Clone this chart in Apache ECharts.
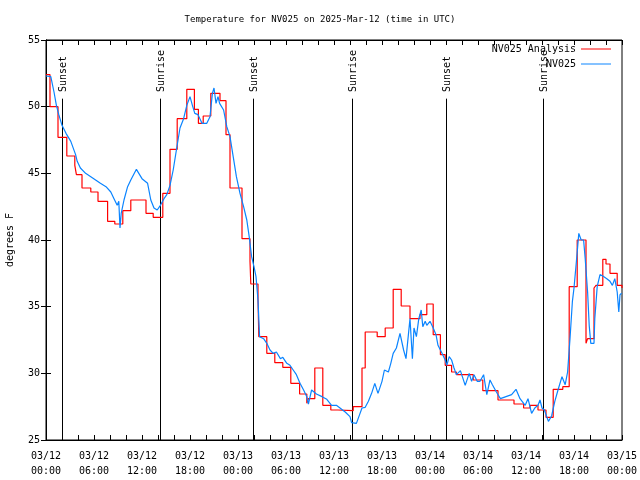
<!DOCTYPE html>
<html><head><meta charset="utf-8">
<script src="https://cdn.jsdelivr.net/npm/echarts@6/dist/echarts.min.js"></script>
<style>html,body{margin:0;padding:0;background:#fff}#c{width:640px;height:480px}</style>
</head><body><div id="c"></div>
<script>
const titleText = 'Temperature for NV025 on 2025-Mar-12 (time in UTC)';
const yAxisName = 'degrees F';
const xTickLabels = ['03/12\n00:00','03/12\n06:00','03/12\n12:00','03/12\n18:00','03/13\n00:00','03/13\n06:00','03/13\n12:00','03/13\n18:00','03/14\n00:00','03/14\n06:00','03/14\n12:00','03/14\n18:00','03/15\n00:00'];
const seriesNames = ['NV025 Analysis', 'NV025'];

// Analysis (hours since 03/12 00:00 UTC, deg F) - stepped
const analysisHours = [0.0,0.5,1.5,2.6,3.6,3.8,4.5,5.6,6.5,7.7,8.6,9.6,10.6,12.5,13.4,14.6,15.5,16.4,17.6,18.55,19.05,19.65,20.6,21.75,22.5,23.0,24.5,25.5,25.6,26.5,26.6,27.6,28.6,29.6,30.6,31.7,32.6,32.8,33.6,34.6,35.6,36.5,38.4,39.5,39.9,41.4,42.4,43.4,44.4,45.5,46.75,47.6,48.4,49.3,49.9,50.7,51.3,53.4,54.6,56.5,58.5,59.7,60.5,61.5,62.5,63.4,64.6,65.4,66.4,67.5,67.7,68.5,68.75,69.6,70.0,70.5,71.4,72.0];
const analysisTemps = [52.4,50.0,47.7,46.3,45.6,44.9,43.9,43.6,42.9,41.4,41.2,42.2,43.0,42.0,41.7,43.5,46.8,49.1,51.3,49.8,48.75,49.3,51.0,50.45,47.9,43.9,40.1,38.4,36.7,35.6,32.75,31.5,30.8,30.45,29.25,28.45,27.75,28.1,30.4,27.6,27.25,27.2,27.5,30.4,33.1,32.75,33.4,36.3,35.05,34.1,34.4,35.2,32.9,31.4,30.6,30.1,29.9,29.5,28.7,28.0,27.7,27.4,27.6,27.25,26.7,28.8,29.0,36.5,40.0,32.25,32.6,36.4,36.6,38.55,38.2,37.5,36.6,36.4];

// Observations
const obsHours = [0.0,0.17,0.6,1.0,1.3,1.6,2.0,2.5,3.1,3.7,3.9,4.3,4.95,5.6,6.2,6.8,7.5,8.1,8.5,8.9,9.1,9.25,9.4,9.75,10.2,10.6,11.3,12.0,12.7,13.1,13.5,13.9,14.3,14.75,15.1,15.5,15.9,16.3,16.75,17.2,17.6,18.0,18.3,18.6,19.0,19.5,20.1,20.5,20.8,21.0,21.25,21.5,21.7,22.2,22.6,23.0,23.4,23.8,24.25,24.7,25.1,25.4,25.7,26.0,26.25,26.5,26.7,27.2,27.6,28.0,28.4,28.8,29.3,29.6,30.1,30.5,30.9,31.3,31.75,32.2,32.6,32.8,33.2,33.4,33.8,34.5,35.1,35.7,36.3,36.75,37.4,38.0,38.2,38.8,39.2,39.5,39.9,40.3,40.7,41.1,41.5,42.0,42.3,42.8,43.1,43.4,43.8,44.25,44.7,45.0,45.3,45.5,45.8,46.0,46.3,46.6,46.9,47.1,47.4,47.6,48.0,48.4,48.75,49.0,49.5,49.9,50.1,50.4,50.7,51.0,51.3,51.8,52.4,52.9,53.2,53.5,53.9,54.25,54.7,55.1,55.5,55.8,56.3,56.8,57.5,58.2,58.75,59.25,59.9,60.25,60.7,61.1,61.5,61.75,62.0,62.3,62.8,63.2,63.6,64.0,64.5,64.9,65.2,65.5,65.8,66.0,66.3,66.6,66.9,67.2,67.4,67.7,67.9,68.1,68.5,68.6,68.9,69.25,69.6,70.1,70.5,70.8,71.1,71.4,71.6,71.75,71.95];
const obsTemps = [52.3,52.4,52.25,51.1,50.1,49.4,48.6,48.0,47.4,46.4,45.9,45.4,45.0,44.75,44.5,44.25,44.0,43.6,43.1,42.6,42.9,40.9,42.0,43.0,44.0,44.5,45.3,44.6,44.25,43.0,42.4,42.25,42.6,43.1,43.4,44.1,45.25,46.75,48.4,49.1,50.1,50.75,50.1,49.5,49.4,48.75,48.75,49.25,51.0,51.4,50.25,50.75,50.25,49.75,48.5,47.75,46.25,44.75,43.5,42.5,41.5,40.25,38.75,38.0,37.25,35.5,32.75,32.6,32.25,31.75,31.5,31.6,31.1,31.2,30.75,30.6,30.25,29.9,29.25,28.75,28.25,27.7,28.75,28.6,28.45,28.25,28.05,27.6,27.6,27.4,27.1,26.75,26.3,26.25,26.9,27.4,27.45,27.9,28.5,29.25,28.5,29.4,30.25,30.1,30.75,31.5,31.9,33.0,31.75,31.1,32.9,34.1,31.1,33.4,32.75,34.1,34.75,33.5,33.9,33.6,33.9,33.4,32.9,32.1,31.5,31.0,30.6,31.25,31.0,30.4,29.9,30.2,29.1,30.0,29.4,29.9,29.4,29.4,29.9,28.4,29.5,29.15,28.6,28.1,28.25,28.4,28.8,28.1,27.6,28.1,27.0,27.4,27.6,28.0,27.4,27.25,26.4,26.8,27.9,28.75,29.75,29.15,30.1,32.6,35.4,36.4,38.4,40.5,40.0,40.0,38.6,36.1,33.6,32.25,32.25,34.1,36.5,37.4,37.3,37.1,36.9,36.6,37.1,36.1,34.6,35.9,36.0];

const sunHours = [2.05, 14.3, 25.9, 38.25, 49.95, 62.15];
const sunLabels = ['Sunset','Sunrise','Sunset','Sunrise','Sunset','Sunrise'];

const FONT = '"DejaVu Sans Mono", "Liberation Mono", monospace';
const RED = '#ff0000';
const BLUE = '#0a84ff';
const chart = echarts.init(document.getElementById('c'), null, {renderer: 'canvas'});

const axisCommon = {
  axisLine: {show: true, lineStyle: {color: '#000', width: 1}},
  axisTick: {show: true, inside: true, length: 5, lineStyle: {color: '#000'}},
  splitLine: {show: false}
};
const legendCommon = {right: 29, align: 'right', icon: 'rect', itemWidth: 30, itemHeight: 1, itemGap: 0,
  selectedMode: false, padding: 0, textStyle: {fontFamily: FONT, fontSize: 10, color: '#000'}};

chart.setOption({
  animation: false,
  backgroundColor: '#fff',
  title: {text: titleText, left: 'center', top: 10,
    textStyle: {fontFamily: FONT, fontSize: 9, fontWeight: 'normal', color: '#000'}},
  legend: [
    Object.assign({}, legendCommon, {data: [seriesNames[0]], top: 44}),
    Object.assign({}, legendCommon, {data: [seriesNames[1]], top: 59})
  ],
  grid: {left: 46, right: 18, top: 40, bottom: 40, show: true, borderColor: '#000', borderWidth: 1,
    containLabel: false, outerBoundsMode: 'none'},
  xAxis: [
    Object.assign({}, axisCommon, {type: 'value', min: 0, max: 72, interval: 6, position: 'bottom',
      minorTick: {show: true, splitNumber: 3, length: 5, lineStyle: {color: '#000'}},
      axisLabel: {margin: 9, fontFamily: FONT, fontSize: 10, color: '#000', lineHeight: 15,
        formatter: v => xTickLabels[Math.round(v / 6)] || ''}}),
    Object.assign({}, axisCommon, {type: 'value', min: 0, max: 72, interval: 6, position: 'top',
      minorTick: {show: true, splitNumber: 3, length: 5, lineStyle: {color: '#000'}},
      axisLabel: {show: false}})
  ],
  yAxis: [
    Object.assign({}, axisCommon, {type: 'value', min: 25, max: 55, interval: 5, position: 'left',
      name: yAxisName, nameLocation: 'middle', nameRotate: 90, nameGap: 31,
      nameTextStyle: {fontFamily: FONT, fontSize: 10, color: '#000'},
      axisLabel: {margin: 6, fontFamily: FONT, fontSize: 10, color: '#000'}}),
    Object.assign({}, axisCommon, {type: 'value', min: 25, max: 55, interval: 5, position: 'right',
      axisLabel: {show: false}})
  ],
  series: [
    {
      type: 'custom', name: 'sun', silent: true, z: 1, xAxisIndex: 0, yAxisIndex: 0,
      data: sunHours.map(h => [h, 25]),
      encode: {x: 0, y: 1},
      renderItem: (params, api) => {
        const h = api.value(0);
        const p0 = api.coord([h, 25]);
        const p1 = api.coord([h, 50.6]);
        const pt = api.coord([h, 51.1]);
        const x = Math.round(p0[0]) + 0.5;
        return {type: 'group', children: [
          {type: 'line', shape: {x1: x, y1: p0[1], x2: x, y2: p1[1]}, style: {stroke: '#000', lineWidth: 1}},
          {type: 'text', x: x + 1, y: pt[1], rotation: Math.PI / 2,
            style: {text: sunLabels[params.dataIndex], fill: '#000', font: '10px ' + FONT, align: 'left', verticalAlign: 'middle'}}
        ]};
      }
    },
    {
      type: 'line', name: seriesNames[0], step: 'end', symbol: 'none', z: 3,
      data: analysisHours.map((h, i) => [h, analysisTemps[i]]),
      lineStyle: {color: RED, width: 1.2}, itemStyle: {color: RED}
    },
    {
      type: 'line', name: seriesNames[1], symbol: 'none', z: 4,
      data: obsHours.map((h, i) => [h, obsTemps[i]]),
      lineStyle: {color: BLUE, width: 1.2}, itemStyle: {color: BLUE}
    }
  ]
});
</script>
</body></html>
